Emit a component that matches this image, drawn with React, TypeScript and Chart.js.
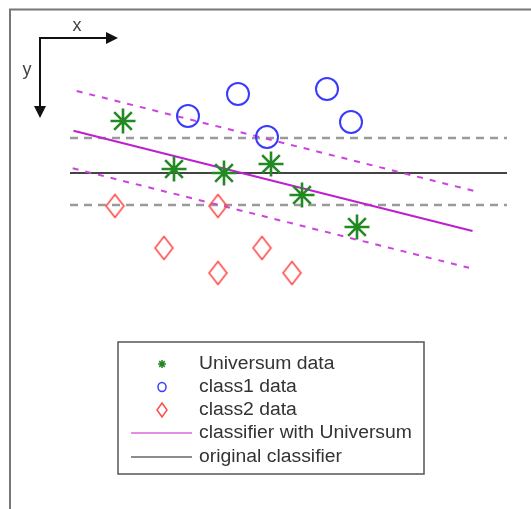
import React, { useEffect, useRef } from "react";
import { Chart, registerables } from "chart.js";

Chart.register(...registerables);

// Data (units: schematic coordinates, origin at the axis-arrow corner, y grows downward)
const universumX = [8.3, 13.4, 18.4, 23.1, 26.2, 31.7];
const universumY = [8.3, 13.1, 13.5, 12.6, 15.7, 18.9];
const class1X = [14.8, 19.8, 28.7, 31.1, 22.7];
const class1Y = [7.8, 5.6, 5.1, 8.4, 9.9];
const class2X = [7.5, 17.8, 12.4, 22.2, 17.8, 25.2];
const class2Y = [16.8, 16.8, 21.0, 21.0, 23.5, 23.5];

// classifier with Universum (solid) and its margins (dashed)
const uniLineX = [3.35, 43.25];
const uniLineY = [9.28, 19.3];
const uniMarginUpperX = [3.67, 43.35];
const uniMarginUpperY = [5.3, 15.28];
const uniMarginLowerX = [3.27, 42.9];
const uniMarginLowerY = [13.03, 22.98];

// original classifier (horizontal) and its margins
const origLineX = [3.0, 46.7];
const origLineY = [13.5, 13.5];
const origMarginUpperY = [10.0, 10.0];
const origMarginLowerY = [16.7, 16.7];

// axis arrows
const arrowXEnd = 7.8;
const arrowYEnd = 8.0;
const axisLabels = ["x", "y"];

const legendLabels = [
  "Universum data",
  "class1 data",
  "class2 data",
  "classifier with Universum",
  "original classifier",
];

const GREEN = "#238a23";
const BLUE = "#3a3aff";
const RED = "#ff4a4a";
const MAGENTA = "#bb22cc";
const MAGENTA_D = "#cc44dd";
const GRAY_D = "#9a9a9a";
const BLACK_L = "#444444";

const pts = (xs: number[], ys: number[]) => xs.map((x, i) => ({ x, y: ys[i] }));

function makeDiamond(w: number, h: number, lw: number, color: string) {
  const c = document.createElement("canvas");
  c.width = w;
  c.height = h;
  const ctx = c.getContext("2d")!;
  ctx.strokeStyle = color;
  ctx.lineWidth = lw;
  ctx.beginPath();
  ctx.moveTo(w / 2, lw);
  ctx.lineTo(w - lw, h / 2);
  ctx.lineTo(w / 2, h - lw);
  ctx.lineTo(lw, h / 2);
  ctx.closePath();
  ctx.stroke();
  return c;
}

export default function App() {
  const ref = useRef<HTMLCanvasElement>(null);

  useEffect(() => {
    if (!ref.current) return;
    const diamond = makeDiamond(21, 26, 1.6, RED);

    const decor = {
      id: "decor",
      beforeDatasetsDraw(chart: any) {
        const ctx = chart.ctx as CanvasRenderingContext2D;
        ctx.save();
        ctx.strokeStyle = "#777";
        ctx.lineWidth = 2;
        ctx.beginPath();
        ctx.moveTo(531, 9.5);
        ctx.lineTo(10, 9.5);
        ctx.lineTo(10, 509);
        ctx.stroke();
        ctx.restore();
      },
      afterDatasetsDraw(chart: any) {
        const ctx = chart.ctx as CanvasRenderingContext2D;
        const sx = chart.scales.x;
        const sy = chart.scales.y;
        ctx.save();
        const ox = sx.getPixelForValue(0);
        const oy = sy.getPixelForValue(0);
        const ex = sx.getPixelForValue(arrowXEnd);
        const ey = sy.getPixelForValue(arrowYEnd);
        ctx.strokeStyle = "#111";
        ctx.fillStyle = "#111";
        ctx.lineWidth = 2;
        ctx.beginPath();
        ctx.moveTo(ex - 10, oy);
        ctx.lineTo(ox, oy);
        ctx.lineTo(ox, ey - 10);
        ctx.stroke();
        ctx.beginPath();
        ctx.moveTo(ex, oy);
        ctx.lineTo(ex - 12, oy - 6);
        ctx.lineTo(ex - 12, oy + 6);
        ctx.closePath();
        ctx.fill();
        ctx.beginPath();
        ctx.moveTo(ox, ey);
        ctx.lineTo(ox - 6, ey - 12);
        ctx.lineTo(ox + 6, ey - 12);
        ctx.closePath();
        ctx.fill();
        ctx.font = "18px 'Liberation Sans', Arial, sans-serif";
        ctx.fillStyle = "#444";
        ctx.textAlign = "center";
        ctx.textBaseline = "middle";
        ctx.fillText(axisLabels[0], (ox + ex) / 2 - 2, oy - 12);
        ctx.fillText(axisLabels[1], ox - 13, (oy + ey) / 2 - 8);

        // legend
        const lx = 118, ly = 342, lw = 306, lh = 132;
        ctx.fillStyle = "#fff";
        ctx.fillRect(lx, ly, lw, lh);
        ctx.strokeStyle = "#555";
        ctx.lineWidth = 1.5;
        ctx.strokeRect(lx, ly, lw, lh);
        const rowY = [364, 387, 410, 433, 457];
        const mx = 162;
        ctx.font = "18px 'Liberation Sans', Arial, sans-serif";
        ctx.textAlign = "left";
        ctx.textBaseline = "middle";
        legendLabels.forEach((t, i) => {
          const y = rowY[i];
          ctx.save();
          ctx.fillStyle = "#333";
          ctx.translate(199, y);
          ctx.scale(1.075, 1);
          ctx.fillText(t, 0, 0);
          ctx.restore();
          ctx.save();
          if (i === 0) {
            ctx.strokeStyle = GREEN;
            ctx.lineWidth = 1.6;
            const r = 4;
            ctx.beginPath();
            for (let k = 0; k < 4; k++) {
              const a = (k * Math.PI) / 4;
              ctx.moveTo(mx - r * Math.cos(a), y - r * Math.sin(a));
              ctx.lineTo(mx + r * Math.cos(a), y + r * Math.sin(a));
            }
            ctx.stroke();
          } else if (i === 1) {
            ctx.strokeStyle = BLUE;
            ctx.lineWidth = 1.5;
            ctx.beginPath();
            ctx.ellipse(mx, y, 4, 4.5, 0, 0, Math.PI * 2);
            ctx.stroke();
          } else if (i === 2) {
            ctx.strokeStyle = RED;
            ctx.lineWidth = 1.5;
            ctx.beginPath();
            ctx.moveTo(mx, y - 7);
            ctx.lineTo(mx + 5, y);
            ctx.lineTo(mx, y + 7);
            ctx.lineTo(mx - 5, y);
            ctx.closePath();
            ctx.stroke();
          } else {
            ctx.strokeStyle = i === 3 ? "#dd66dd" : "#666";
            ctx.lineWidth = 1.3;
            ctx.beginPath();
            ctx.moveTo(131, y);
            ctx.lineTo(192, y);
            ctx.stroke();
          }
          ctx.restore();
        });
        ctx.restore();
      },
    };

    const lineDs = (data: any[], color: string, width: number, dash: number[], order: number) => ({
      type: "line" as const,
      data,
      borderColor: color,
      borderWidth: width,
      borderDash: dash,
      pointRadius: 0,
      fill: false,
      clip: false,
      order,
    });

    const chart = new Chart(ref.current, {
      type: "scatter",
      data: {
        datasets: [
          lineDs(pts(origLineX, origMarginUpperY), GRAY_D, 2.5, [8, 6], 10),
          lineDs(pts(origLineX, origMarginLowerY), GRAY_D, 2.5, [8, 6], 10),
          lineDs(pts(origLineX, origLineY), BLACK_L, 2.2, [], 9),
          lineDs(pts(uniMarginUpperX, uniMarginUpperY), MAGENTA_D, 2, [6, 7], 8),
          lineDs(pts(uniMarginLowerX, uniMarginLowerY), MAGENTA_D, 2, [6, 7], 8),
          lineDs(pts(uniLineX, uniLineY), MAGENTA, 2.2, [], 7),
          {
            data: pts(universumX, universumY),
            pointStyle: "star",
            pointRadius: 12.5,
            pointBorderWidth: 2.6,
            borderColor: GREEN,
            backgroundColor: GREEN,
            clip: false,
            order: 1,
          },
          {
            data: pts(class1X, class1Y),
            pointStyle: "circle",
            pointRadius: 11,
            pointBorderWidth: 2,
            borderColor: BLUE,
            backgroundColor: "rgba(0,0,0,0)",
            clip: false,
            order: 1,
          },
          {
            data: pts(class2X, class2Y),
            pointStyle: diamond as any,
            pointRadius: 12,
            borderColor: RED,
            backgroundColor: "rgba(0,0,0,0)",
            clip: false,
            order: 1,
          },
        ] as any,
      },
      options: {
        animation: false,
        responsive: false,
        events: [],
        layout: { padding: 0, autoPadding: false },
        plugins: { legend: { display: false }, tooltip: { enabled: false }, title: { display: false } },
        scales: {
          x: { type: "linear", min: -4.0, max: 49.1, display: false },
          y: { type: "linear", min: -3.8, max: 47.1, reverse: true, display: false },
        },
      },
      plugins: [decor],
    });
    return () => chart.destroy();
  }, []);

  return (
    <div style={{ position: "fixed", left: 0, top: 0, width: 531, height: 509, background: "#fff" }}>
      <canvas ref={ref} width={531} height={509} style={{ width: 531, height: 509, display: "block" }} />
    </div>
  );
}
